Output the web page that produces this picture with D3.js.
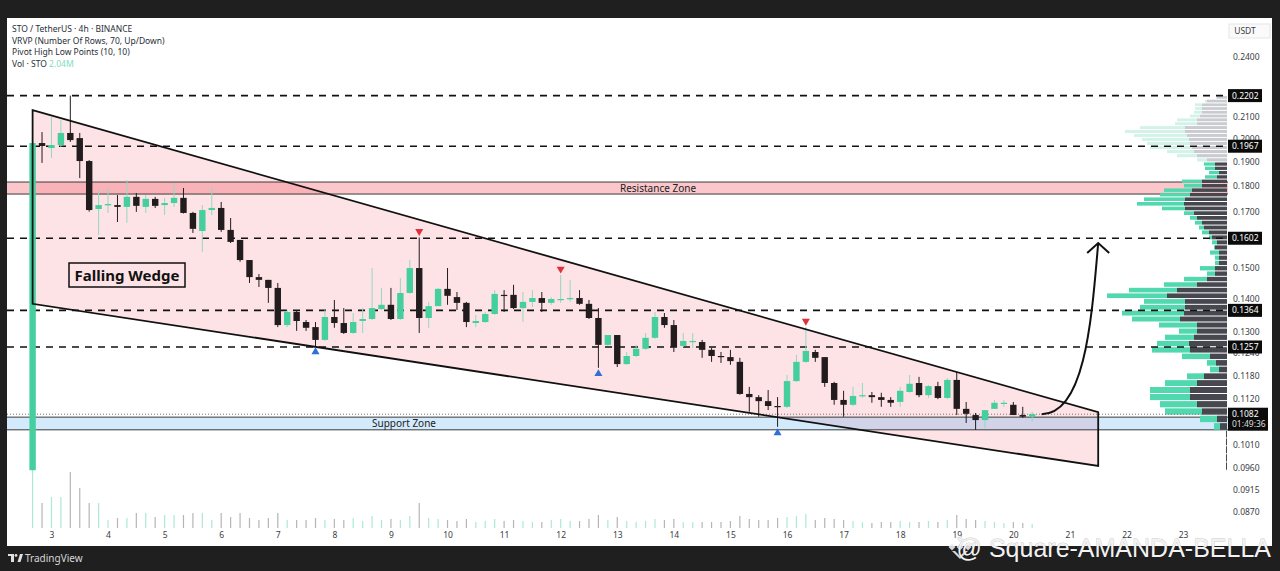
<!DOCTYPE html>
<html>
<head>
<meta charset="utf-8">
<script src="https://cdnjs.cloudflare.com/ajax/libs/d3/7.8.5/d3.min.js"></script>
<style>
  html, body { margin: 0; padding: 0; background: #1f1f1f; }
  svg { display: block; font-family: "Noto Sans", sans-serif; }
</style>
</head>
<body>
<div id="chart-area"></div>
<script>
const W = 1280
const H = 571
const PANE = { LEFT: 7, RIGHT: 1228, TOP: 18, BOTTOM: 546, AXIS: 1272 }

// STO / USDT 4h candles
const open = [0.0955,0.1981,0.1959,0.1972,0.2026,0.2003,0.1903,0.1710,0.1724,0.1725,
  0.1718,0.1757,0.1718,0.1749,0.1725,0.1733,0.1753,0.1695,0.1628,0.1706,
  0.1714,0.1632,0.1596,0.1526,0.1469,0.1460,0.1434,0.1320,0.1359,0.1329,
  0.1314,0.1277,0.1344,0.1326,0.1297,0.1332,0.1338,0.1368,0.1381,0.1338,
  0.1418,0.1499,0.1341,0.1377,0.1431,0.1405,0.1387,0.1326,0.1329,0.1353,
  0.1412,0.1412,0.1371,0.1390,0.1402,0.1387,0.1396,0.1399,0.1402,0.1384,
  0.1341,0.1263,0.1291,0.1210,0.1232,0.1252,0.1283,0.1344,0.1320,0.1260,
  0.1271,0.1271,0.1249,0.1232,0.1229,0.1216,0.1132,0.1124,0.1114,0.1102,
  0.1100,0.1165,0.1216,0.1243,0.1229,0.1160,0.1117,0.1105,0.1127,0.1129,
  0.1124,0.1117,0.1112,0.1137,0.1160,0.1129,0.1152,0.1122,0.1168,0.1095,
  0.1080,0.1068,0.1095,0.1107,0.1105,0.1080,0.1076]
const high = [0.1985,0.2030,0.2100,0.2085,0.2202,0.2026,0.1907,0.1784,0.1792,0.1764,
  0.1824,0.1772,0.1764,0.1757,0.1753,0.1812,0.1792,0.1699,0.1725,0.1796,
  0.1737,0.1676,0.1596,0.1526,0.1479,0.1460,0.1450,0.1365,0.1365,0.1335,
  0.1329,0.1365,0.1396,0.1371,0.1356,0.1371,0.1499,0.1434,0.1434,0.1466,
  0.1526,0.1605,0.1390,0.1434,0.1499,0.1421,0.1390,0.1350,0.1359,0.1427,
  0.1427,0.1444,0.1421,0.1427,0.1421,0.1405,0.1476,0.1460,0.1427,0.1396,
  0.1371,0.1291,0.1291,0.1243,0.1263,0.1297,0.1359,0.1356,0.1335,0.1297,
  0.1297,0.1277,0.1254,0.1243,0.1249,0.1227,0.1150,0.1129,0.1142,0.1124,
  0.1181,0.1235,0.1314,0.1249,0.1229,0.1163,0.1140,0.1150,0.1160,0.1137,
  0.1135,0.1124,0.1150,0.1181,0.1176,0.1155,0.1163,0.1173,0.1189,0.1112,
  0.1085,0.1092,0.1117,0.1117,0.1112,0.1100,0.1088]
const low = [0.0955,0.1895,0.1916,0.1964,0.1986,0.1832,0.1700,0.1614,0.1695,0.1661,
  0.1658,0.1699,0.1695,0.1714,0.1687,0.1718,0.1693,0.1621,0.1554,0.1687,
  0.1625,0.1585,0.1520,0.1450,0.1437,0.1387,0.1314,0.1314,0.1303,0.1303,
  0.1260,0.1274,0.1312,0.1294,0.1294,0.1297,0.1335,0.1365,0.1335,0.1335,
  0.1415,0.1297,0.1312,0.1377,0.1381,0.1365,0.1314,0.1314,0.1326,0.1350,
  0.1359,0.1368,0.1329,0.1374,0.1359,0.1381,0.1387,0.1390,0.1381,0.1338,
  0.1200,0.1260,0.1202,0.1208,0.1229,0.1249,0.1280,0.1312,0.1243,0.1257,
  0.1254,0.1227,0.1216,0.1213,0.1208,0.1130,0.1088,0.1076,0.1092,0.1052,
  0.1097,0.1163,0.1213,0.1216,0.1150,0.1105,0.1076,0.1102,0.1122,0.1110,
  0.1100,0.1100,0.1100,0.1135,0.1124,0.1122,0.1119,0.1119,0.1080,0.1061,
  0.1045,0.1049,0.1095,0.1100,0.1080,0.1073,0.1064]
const close = [0.1981,0.1968,0.1972,0.2026,0.1994,0.1903,0.1706,0.1725,0.1729,0.1718,
  0.1757,0.1722,0.1749,0.1722,0.1733,0.1753,0.1695,0.1636,0.1706,0.1714,
  0.1632,0.1589,0.1526,0.1469,0.1460,0.1434,0.1320,0.1359,0.1332,0.1312,
  0.1277,0.1344,0.1326,0.1297,0.1329,0.1338,0.1371,0.1381,0.1338,0.1418,
  0.1499,0.1341,0.1377,0.1431,0.1409,0.1387,0.1329,0.1332,0.1353,0.1415,
  0.1409,0.1371,0.1390,0.1402,0.1387,0.1399,0.1399,0.1402,0.1384,0.1341,
  0.1263,0.1291,0.1210,0.1232,0.1252,0.1283,0.1344,0.1320,0.1257,0.1274,
  0.1274,0.1249,0.1232,0.1229,0.1218,0.1132,0.1124,0.1114,0.1102,0.1100,
  0.1165,0.1216,0.1246,0.1227,0.1160,0.1117,0.1105,0.1127,0.1129,0.1124,
  0.1117,0.1110,0.1140,0.1158,0.1129,0.1152,0.1122,0.1168,0.1095,0.1083,
  0.1068,0.1092,0.1110,0.1110,0.1080,0.1076,0.1082]
// volume, millions STO
const volume = [29,12.5,15.5,15.5,28,20,12.5,12.5,
  4,5,5,7.5,7.5,5.5,6.5,6.5,6.5,7.5,7.5,4,7.5,5.5,7.5,5,4,5,7.5,4,4,4,5,4,
  4.5,4,5,3.5,6,4,4.5,4,6,12.5,
  5,4.5,4,3.5,4.5,3,3.5,4.5,3.5,4,3.5,3,3,4,4.5,3.5,3.5,4.5,
  6.5,4,5.5,3.5,3,3.5,4.5,4,4.5,3,3,3,3,3,3.5,6,4.5,4,4,5,
  5.5,6,7,4,5,4.5,4,3.5,3,2.5,3,3,3.5,3,3,3.5,3,4,6.5,4.5,
  4,3.5,3,2.5,3,2.5,2.04]

const dayTicks = [3,4,5,6,7,8,9,10,11,12,13,14,15,16,17,18,19,20,21,22,23]
const priceTicks = [0.24,0.21,0.20,0.19,0.18,0.17,0.15,0.14,0.13,0.124,0.118,0.112,0.101,0.096,0.0915,0.087]
const levels = [0.2202, 0.1967, 0.1602, 0.1364, 0.1257]
const lastPrice = 0.1082
const countdown = "01:49:36"
const resistance = [0.1768, 0.1816]
const support = [0.1045, 0.1075]
const wedge = [[0, 0.2132], [113, 0.1087], [113, 0.0964], [0, 0.1384]]
const pivotHighs = [41, 56, 82]
const pivotLows = [30, 60, 79]
const arrowPts = [[107, 0.1082], [111.6, 0.1082], [112.3, 0.1335], [113, 0.1585]]

// visible range volume profile, 70 rows from top (0.2202) down to 0.0955
const profileRange = [0.0955, 0.2202]
const profileDown = [10,20,25,25,25,27,30,30,42,42,40,38,37,35,33,30,20,12,12,8,
  10,25,25,35,37,42,43,42,33,30,25,23,18,15,10,12,8,8,8,12,
  12,20,30,50,60,42,42,43,47,30,30,33,38,37,17,11,8,23,30,37,
  37,30,25,10,7,1,1,1,1,1]
const profileUp = [1,2,7,7,8,10,20,22,45,60,53,47,43,42,27,20,10,11,10,10,
  12,20,18,28,30,41,47,23,10,7,7,5,7,3,5,1,9,4,4,15,
  8,23,33,48,60,41,45,62,48,38,18,29,32,38,28,9,9,17,32,40,
  40,37,37,17,6,0,0,0,0,0]
const valueAreaStart = 17

const UP = "#45cf9f"
const UP_WICK = "#93d8c1"
const DOWN = "#231c1e"

const svg = d3.select('#chart-area').append('svg')
  .attr('width', W)
  .attr('height', H)

svg.append('rect').attr('width', W).attr('height', H).attr('fill', '#1f1f1f')
svg.append('rect')
  .attr('x', PANE.LEFT).attr('y', PANE.TOP)
  .attr('width', PANE.AXIS - PANE.LEFT).attr('height', PANE.BOTTOM - PANE.TOP)
  .attr('fill', '#ffffff')

svg.append('clipPath').attr('id', 'plot-clip')
  .append('rect')
  .attr('x', PANE.LEFT).attr('y', PANE.TOP)
  .attr('width', PANE.RIGHT - PANE.LEFT).attr('height', PANE.BOTTOM - PANE.TOP)

const x = d3.scaleLinear().domain([0, 113]).range([32.6, 1098.2])
const y = d3.scaleLog().domain([0.24, 0.087]).range([57, 512])
const yVol = d3.scaleLinear().domain([0, d3.max(volume)]).range([528, 470])

const g = svg.append('g').attr('clip-path', 'url(#plot-clip)')

const bars = open.map((o, i) => ({ i, o, h: high[i], l: low[i], c: close[i], v: volume[i], up: close[i] >= o }))

// wedge fill
const wedgeLine = d3.line().x(d => x(d[0])).y(d => y(d[1]))
g.append('path')
  .attr('d', wedgeLine(wedge) + 'Z')
  .attr('fill', 'rgba(242,54,69,0.14)')

// zones
function zone(range, fill, label, lx) {
  g.append('rect')
    .attr('x', PANE.LEFT).attr('width', PANE.RIGHT - PANE.LEFT)
    .attr('y', y(range[1])).attr('height', y(range[0]) - y(range[1]))
    .attr('fill', fill)
  ;[range[0], range[1]].forEach(p => {
    g.append('line')
      .attr('x1', PANE.LEFT).attr('x2', PANE.RIGHT)
      .attr('y1', y(p)).attr('y2', y(p))
      .attr('stroke', '#3a3a3a').attr('stroke-width', 1)
  })
  g.append('text')
    .attr('x', lx).attr('y', (y(range[0]) + y(range[1])) / 2 + 3.5)
    .attr('text-anchor', 'middle')
    .attr('font-size', '10px')
    .attr('fill', '#222')
    .text(label)
}
zone(resistance, 'rgba(242,54,69,0.28)', 'Resistance Zone', 658)
zone(support, 'rgba(33,150,243,0.2)', 'Support Zone', 404)

// volume profile (VRVP)
const step = (profileRange[1] - profileRange[0]) / profileDown.length
const totals = profileDown.map((d, k) => d + profileUp[k])
const vx = d3.scaleLinear().domain([0, d3.max(totals)]).range([0, 120])
const rows = profileDown.map((d, k) => ({
  k, down: d, up: profileUp[k],
  top: y(profileRange[1] - k * step),
  bottom: y(profileRange[1] - (k + 1) * step)
}))
const vrvp = g.append('g')
vrvp.selectAll('rect.pdown').data(rows).enter().append('rect')
  .attr('class', 'pdown')
  .attr('x', d => PANE.RIGHT - 1 - vx(d.down))
  .attr('width', d => vx(d.down))
  .attr('y', d => d.top + 0.5)
  .attr('height', d => Math.max(0.8, d.bottom - d.top - 1))
  .attr('fill', d => d.k < valueAreaStart ? '#cacbd0' : '#46474f')
vrvp.selectAll('rect.pup').data(rows).enter().append('rect')
  .attr('class', 'pup')
  .attr('x', d => PANE.RIGHT - 1 - vx(d.down + d.up))
  .attr('width', d => vx(d.up))
  .attr('y', d => d.top + 0.5)
  .attr('height', d => Math.max(0.8, d.bottom - d.top - 1))
  .attr('fill', d => d.k < valueAreaStart ? '#d3f2e8' : '#52d8ae')

// dashed key levels
g.selectAll('line.level').data(levels).enter().append('line')
  .attr('class', 'level')
  .attr('x1', PANE.LEFT).attr('x2', PANE.RIGHT)
  .attr('y1', d => y(d)).attr('y2', d => y(d))
  .attr('stroke', '#111').attr('stroke-width', 1.6)
  .attr('stroke-dasharray', '7,6')

// last price dotted line
g.append('line')
  .attr('x1', PANE.LEFT).attr('x2', PANE.RIGHT)
  .attr('y1', y(lastPrice)).attr('y2', y(lastPrice))
  .attr('stroke', '#777').attr('stroke-width', 1)
  .attr('stroke-dasharray', '1,2')

// volume bars
g.selectAll('line.vol').data(bars).enter().append('line')
  .attr('class', 'vol')
  .attr('x1', d => x(d.i)).attr('x2', d => x(d.i))
  .attr('y1', yVol(0)).attr('y2', d => yVol(d.v))
  .attr('stroke', d => d.up ? 'rgba(69,207,159,0.45)' : 'rgba(90,90,100,0.45)')
  .attr('stroke-width', 1.2)

// candles
const bw = 6.4
g.selectAll('line.wick').data(bars).enter().append('line')
  .attr('class', 'wick')
  .attr('x1', d => x(d.i)).attr('x2', d => x(d.i))
  .attr('y1', d => y(d.h)).attr('y2', d => y(d.l))
  .attr('stroke', d => d.up ? UP_WICK : DOWN)
  .attr('stroke-width', 1)
g.selectAll('rect.body').data(bars).enter().append('rect')
  .attr('class', 'body')
  .attr('x', d => x(d.i) - bw / 2)
  .attr('width', bw)
  .attr('y', d => y(Math.max(d.o, d.c)))
  .attr('height', d => Math.max(1.2, Math.abs(y(d.o) - y(d.c))))
  .attr('fill', d => d.up ? UP : DOWN)

// wedge outline
g.append('path')
  .attr('d', wedgeLine(wedge) + 'Z')
  .attr('fill', 'none')
  .attr('stroke', '#111')
  .attr('stroke-width', 1.8)

// pivot markers
const tri = d3.symbol().type(d3.symbolTriangle).size(28)
g.selectAll('path.ph').data(pivotHighs).enter().append('path')
  .attr('class', 'ph')
  .attr('d', tri)
  .attr('transform', d => `translate(${x(d)}, ${y(high[d]) - 6}) rotate(180)`)
  .attr('fill', '#e0313b')
g.selectAll('path.pl').data(pivotLows).enter().append('path')
  .attr('class', 'pl')
  .attr('d', tri)
  .attr('transform', d => `translate(${x(d)}, ${y(low[d]) + 6})`)
  .attr('fill', '#2f6fd6')

// projected breakout arrow
const ap = d3.path()
ap.moveTo(x(arrowPts[0][0]), y(arrowPts[0][1]))
ap.bezierCurveTo(x(arrowPts[1][0]), y(arrowPts[1][1]), x(arrowPts[2][0]), y(arrowPts[2][1]), x(arrowPts[3][0]), y(arrowPts[3][1]))
g.append('path').attr('d', ap.toString())
  .attr('fill', 'none').attr('stroke', '#111').attr('stroke-width', 2)
const tipX = x(arrowPts[3][0])
const tipY = y(arrowPts[3][1])
g.append('path')
  .attr('d', `M${tipX - 11},${tipY + 10}L${tipX},${tipY}L${tipX + 11},${tipY + 10}`)
  .attr('fill', 'none').attr('stroke', '#111').attr('stroke-width', 2)

// Falling Wedge label
g.append('rect')
  .attr('x', 69).attr('y', 263).attr('width', 116).attr('height', 24)
  .attr('fill', 'none').attr('stroke', '#111').attr('stroke-width', 1.5)
g.append('text')
  .attr('x', 127).attr('y', 280.5)
  .attr('text-anchor', 'middle')
  .attr('font-size', '15px').attr('font-weight', '700')
  .attr('fill', '#111')
  .text('Falling Wedge')

// price axis
const yAxisCall = d3.axisRight(y)
  .tickValues(priceTicks)
  .tickFormat(d3.format('.4f'))
  .tickSize(0)
  .tickPadding(5)
const yAxis = svg.append('g')
  .attr('class', 'y-axis')
  .attr('transform', `translate(${PANE.RIGHT}, 0)`)
  .call(yAxisCall)
yAxis.select('.domain').remove()
yAxis.selectAll('text').attr('font-size', '8.5px').attr('fill', '#3a3d45').attr('font-family', '"Noto Sans", sans-serif')

// price labels for key levels
const lbl = svg.append('g')
levels.forEach(p => {
  lbl.append('rect')
    .attr('x', PANE.RIGHT).attr('y', y(p) - 6.5)
    .attr('width', 34).attr('height', 13)
    .attr('fill', '#0b0b0b')
  lbl.append('text')
    .attr('x', PANE.RIGHT + 4).attr('y', y(p) + 3)
    .attr('font-size', '8.5px').attr('fill', '#fff')
    .text(d3.format('.4f')(p))
})
lbl.append('rect')
  .attr('x', PANE.RIGHT).attr('y', y(lastPrice) - 6.5)
  .attr('width', 40).attr('height', 23)
  .attr('fill', '#0b0b0b')
lbl.append('text')
  .attr('x', PANE.RIGHT + 4).attr('y', y(lastPrice) + 3)
  .attr('font-size', '8.5px').attr('fill', '#fff')
  .text(d3.format('.4f')(lastPrice))
lbl.append('text')
  .attr('x', PANE.RIGHT + 4).attr('y', y(lastPrice) + 13)
  .attr('font-size', '8.5px').attr('fill', '#ddd')
  .text(countdown)

// currency tag
svg.append('rect')
  .attr('x', 1229).attr('y', 24).attr('width', 41).attr('height', 14)
  .attr('fill', '#fafafa').attr('stroke', '#e6e6e6')
svg.append('text')
  .attr('x', 1245).attr('y', 34)
  .attr('text-anchor', 'middle')
  .attr('font-size', '8.5px').attr('fill', '#3a3d45')
  .text('USDT')

// time axis
const xAxisCall = d3.axisBottom(x)
  .tickValues(dayTicks.map(d => 2 + 6 * (d - 3)))
  .tickFormat((d, i) => dayTicks[i])
  .tickSize(0)
  .tickPadding(3)
const xAxis = svg.append('g')
  .attr('class', 'x-axis')
  .attr('transform', `translate(0, 529)`)
  .call(xAxisCall)
xAxis.select('.domain').remove()
xAxis.selectAll('text').attr('font-size', '8.5px').attr('fill', '#3a3d45').attr('font-family', '"Noto Sans", sans-serif')

// legend
const legend = [
  'STO / TetherUS · 4h · BINANCE',
  'VRVP (Number Of Rows, 70, Up/Down)',
  'Pivot High Low Points (10, 10)'
]
legend.forEach((t, i) => {
  svg.append('text')
    .attr('x', 12).attr('y', 32 + i * 11.7)
    .attr('font-size', '8.5px').attr('fill', '#2a2e39')
    .text(t)
})
const volLine = svg.append('text')
  .attr('x', 12).attr('y', 32 + 3 * 11.7)
  .attr('font-size', '8.5px').attr('fill', '#2a2e39')
volLine.append('tspan').text('Vol · STO ')
volLine.append('tspan').attr('fill', '#7fdcc1').text(d3.format('.2f')(volume[volume.length - 1]) + 'M')

// footer
const tv = svg.append('g').attr('transform', 'translate(8, 554)')
tv.append('path').attr('d', 'M0,0H6V8H3V2H0Z').attr('fill', '#e0e0e0')
tv.append('circle').attr('cx', 8).attr('cy', 1.4).attr('r', 1.4).attr('fill', '#e0e0e0')
tv.append('path').attr('d', 'M9.5,8L12,0H15L12.5,8Z').attr('fill', '#e0e0e0')
svg.append('text')
  .attr('x', 25).attr('y', 562)
  .attr('font-size', '10px').attr('fill', '#d6d6d6')
  .text('TradingView')

// watermark
const bn = svg.append('g').attr('transform', 'translate(960, 547)').attr('fill', 'rgba(235,235,235,0.9)')
;[[0, -8], [-8, 0], [8, 0], [0, 0]].forEach(p => {
  bn.append('rect').attr('x', -2.5).attr('y', -2.5).attr('width', 5).attr('height', 5)
    .attr('transform', `translate(${p[0]}, ${p[1]}) rotate(45)`)
})
bn.append('path').attr('d', 'M-8,4L0,12L8,4L5,4L0,9L-5,4Z')
svg.append('text')
  .attr('x', 1271).attr('y', 557)
  .attr('text-anchor', 'end')
  .attr('font-family', '"Liberation Sans", Arial, sans-serif')
  .attr('font-size', '25px')
  .attr('fill', '#f2f2f2')
  .attr('stroke', 'rgba(0,0,0,0.25)').attr('stroke-width', 0.8)
  .attr('paint-order', 'stroke')
  .text('@ Square-AMANDA-BELLA')
</script>
</body>
</html>
